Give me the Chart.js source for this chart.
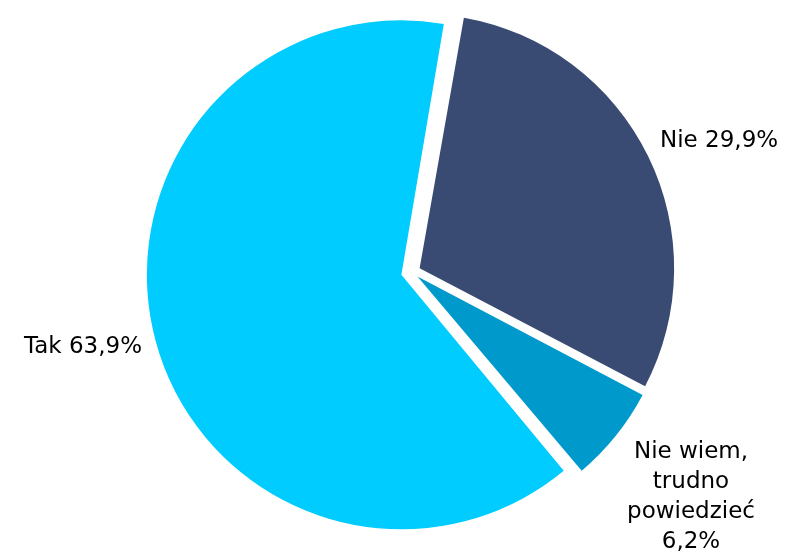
<!DOCTYPE html>
<html>
<head>
<meta charset="utf-8">
<script src="https://cdn.jsdelivr.net/npm/chart.js@4"></script>
<style>
  html, body { margin: 0; padding: 0; background: #fff; }
  #wrap { width: 787px; height: 552px; }
</style>
</head>
<body>
<div id="wrap"><canvas id="pie" width="787" height="552"></canvas></div>
<script>
// answers, in clockwise order starting just right of 12 o'clock
const categories = ["Nie", "Nie wiem, trudno powiedzieć", "Tak"];
const shares = [29.9, 6.2, 63.9];
const labelLines = [
    ["Nie 29,9%"],
    ["Nie wiem,", "trudno", "powiedzieć", "6,2%"],
    ["Tak 63,9%"]
];
const sliceColors = ["#394a73", "#0099cc", "#00ccff"];

// how far each slice is pulled out of the pie (px)
const pullOut = [8.5, 7, 11];

// label placement relative to the pie centre (dx, dy of first baseline)
const labelPlacement = [
    { dx: 248, dy: -125, align: "left" },
    { dx: 279, dy: 185.5, align: "center" },
    { dx: -270, dy: 81, align: "right" }
];

// Chart.js moves an arc by offset/4, so ask for 4x the pull-out
function offsetFor(ctx) {
    return pullOut[ctx.dataIndex] * 4;
}

// Chart.js also grows small arcs by the offset; undo that so every slice
// keeps the same radius, like in the source chart
const evenRadius = {
    id: "evenRadius",
    afterDatasetUpdate(chart, args) {
        args.meta.data.forEach(function(arc, i) {
            const sweep = arc.endAngle - arc.startAngle;
            const fix = 1 - Math.sin(Math.min(Math.PI, sweep));
            arc.outerRadius = arc.outerRadius - pullOut[i] * fix;
        });
    }
};

const sliceLabels = {
    id: "sliceLabels",
    afterDraw(chart) {
        const ctx = chart.ctx;
        const cx = (chart.chartArea.left + chart.chartArea.right) / 2;
        const cy = (chart.chartArea.top + chart.chartArea.bottom) / 2;
        ctx.save();
        ctx.font = '23px "DejaVu Sans", Verdana, sans-serif';
        ctx.fillStyle = "#000";
        ctx.textBaseline = "alphabetic";
        labelLines.forEach(function(lines, i) {
            const p = labelPlacement[i];
            ctx.textAlign = p.align;
            lines.forEach(function(line, j) {
                ctx.fillText(line, cx + p.dx, cy + p.dy + j * 30.3);
            });
        });
        ctx.restore();
    }
};

const ctx = document.getElementById("pie").getContext("2d");
new Chart(ctx, {
    type: "pie",
    data: {
        labels: categories,
        datasets: [{
            data: shares,
            backgroundColor: sliceColors,
            borderWidth: 0,
            offset: offsetFor
        }]
    },
    options: {
        responsive: false,
        animation: false,
        rotation: 10,
        radius: 254.5,
        layout: { padding: { left: 37, right: 0, top: 0, bottom: 8 } },
        plugins: {
            legend: { display: false },
            tooltip: { enabled: false }
        }
    },
    plugins: [evenRadius, sliceLabels]
});
</script>
</body>
</html>
